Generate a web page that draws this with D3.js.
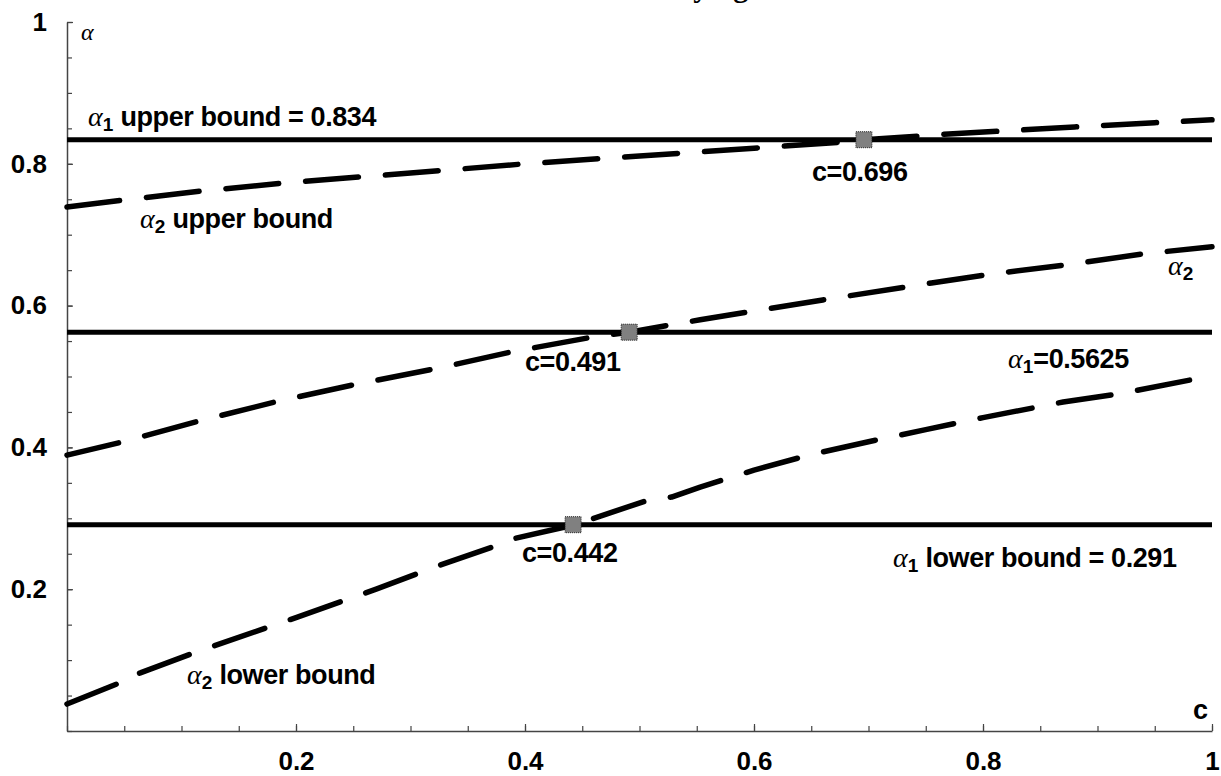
<!DOCTYPE html>
<html>
<head>
<meta charset="utf-8">
<script src="https://cdn.jsdelivr.net/npm/d3@7"></script>
<style>
  body { margin: 0; background: #fff; }
  svg { display: block; }
  .lbl { font-family: "Liberation Sans", Arial, sans-serif; font-weight: bold; }
  .greek { font-family: "Liberation Serif", "Times New Roman", serif; font-style: italic; font-weight: normal; }
</style>
</head>
<body>
<div id="chart"></div>
<script>
// chart size - keep layout numbers here
var width = 1221,
    height = 776;

// axis ticks
var majorTicks = [0.2, 0.4, 0.6, 0.8, 1];
var minorTicks = d3.range(0, 1.0001, 0.05);

// alpha2 upper bound
var upperC   = [0, 0.05, 0.12, 0.19, 0.26, 0.3, 0.4, 0.5, 0.6, 0.68, 0.696, 0.77, 0.88, 0.95, 1];
var upperVal = [0.739, 0.749, 0.762, 0.773, 0.782, 0.787, 0.800, 0.811, 0.822, 0.831, 0.834, 0.842, 0.852, 0.858, 0.862];

// alpha2
var midC   = [0, 0.049, 0.117, 0.184, 0.252, 0.322, 0.389, 0.457, 0.491, 0.553, 0.66, 0.755, 0.805, 0.88, 0.94, 1];
var midVal = [0.389, 0.408, 0.438, 0.465, 0.489, 0.511, 0.535, 0.555, 0.5625, 0.58, 0.608, 0.632, 0.644, 0.659, 0.673, 0.683];

// alpha2 lower bound
var lowerC   = [0, 0.043, 0.045, 0.064, 0.112, 0.2, 0.27, 0.326, 0.376, 0.392, 0.433, 0.442, 0.46, 0.51, 0.528, 0.553, 0.6, 0.65, 0.7, 0.75, 0.8, 0.87, 0.92, 0.987, 1];
var lowerVal = [0.038, 0.066, 0.072, 0.082, 0.111, 0.16, 0.2, 0.234, 0.262, 0.272, 0.287, 0.291, 0.300, 0.327, 0.330, 0.344, 0.368, 0.39, 0.408, 0.425, 0.442, 0.464, 0.476, 0.497, 0.501];

// alpha1 levels (solid lines)
var alpha1Levels = [0.834, 0.5625, 0.291];

// crossing points
var crossC   = [0.696, 0.491, 0.442];
var crossVal = [0.834, 0.5625, 0.291];

var svg = d3.select("#chart").append("svg")
    .attr("width", width)
    .attr("height", height);

var x = d3.scaleLinear().domain([0, 1]).range([67, 1212]);
var y = d3.scaleLinear().domain([0, 1]).range([731, 22]);

// title, mostly cut off at the top of the picture (as in the original)
svg.append("text")
    .attr("x", 769).attr("y", -3)
    .attr("text-anchor", "end")
    .attr("font-family", "Liberation Serif, serif")
    .attr("font-weight", "bold")
    .attr("font-size", 30)
    .text("Bounds under varying c");

/* axes */
var axisColor = "#444";
function styleAxis(g) {
    g.select(".domain").attr("stroke", axisColor).attr("stroke-width", 1.5);
    g.selectAll(".tick line").attr("stroke", axisColor).attr("stroke-width", 1.2);
    g.selectAll("text")
        .attr("class", "lbl")
        .attr("font-size", 26)
        .attr("fill", "#000");
}
var tickFmt = function(d) { return d === 1 ? "1" : d3.format(".1f")(d); };

svg.append("g")
    .attr("transform", "translate(0," + y(0) + ")")
    .call(d3.axisBottom(x).tickValues(minorTicks).tickSizeInner(-5).tickSizeOuter(0).tickFormat(""))
    .call(styleAxis);
svg.append("g")
    .attr("transform", "translate(0," + y(0) + ")")
    .call(d3.axisBottom(x).tickValues(majorTicks).tickSizeInner(-7).tickSizeOuter(0)
        .tickPadding(21).tickFormat(tickFmt))
    .call(styleAxis)
    .call(function(g) { g.select(".domain").remove(); });

svg.append("g")
    .attr("transform", "translate(" + x(0) + ",0)")
    .call(d3.axisLeft(y).tickValues(minorTicks).tickSizeInner(-5).tickSizeOuter(0).tickFormat(""))
    .call(styleAxis);
svg.append("g")
    .attr("transform", "translate(" + x(0) + ",0)")
    .call(d3.axisLeft(y).tickValues(majorTicks).tickSizeInner(-6).tickSizeOuter(0)
        .tickPadding(20).tickFormat(tickFmt))
    .call(styleAxis)
    .call(function(g) { g.select(".domain").remove(); });

// axis names
svg.append("text").attr("class", "greek")
    .attr("x", 81).attr("y", 40).attr("font-size", 24).text("α");
svg.append("text").attr("class", "lbl")
    .attr("x", 1193).attr("y", 719).attr("font-size", 27).text("c");

/* solid alpha1 lines */
svg.selectAll("line.level")
    .data(alpha1Levels)
    .enter()
    .append("line")
    .attr("class", "level")
    .attr("x1", x(0)).attr("x2", x(1))
    .attr("y1", function(d) { return y(d); })
    .attr("y2", function(d) { return y(d); })
    .attr("stroke", "#000")
    .attr("stroke-width", 5);

/* dashed alpha2 curves */
var line = d3.line()
    .x(function(d) { return x(d[0]); })
    .y(function(d) { return y(d[1]); });

var curves = [d3.zip(upperC, upperVal), d3.zip(midC, midVal), d3.zip(lowerC, lowerVal)];
svg.selectAll("path.curve")
    .data(curves)
    .enter()
    .append("path")
    .attr("class", "curve")
    .attr("d", line)
    .attr("fill", "none")
    .attr("stroke", "#000")
    .attr("stroke-width", 5.5)
    .attr("stroke-linecap", "round")
    .attr("stroke-linejoin", "round")
    .attr("stroke-dasharray", "53,27");

/* gray squares at the crossings */
svg.selectAll("rect.cross")
    .data(d3.zip(crossC, crossVal))
    .enter()
    .append("rect")
    .attr("class", "cross")
    .attr("x", function(d) { return x(d[0]) - 8; })
    .attr("y", function(d) { return y(d[1]) - 8; })
    .attr("width", 16).attr("height", 16)
    .attr("fill", "#808080")
    .attr("stroke", "#222")
    .attr("stroke-width", 1)
    .attr("stroke-dasharray", "1,1");

/* annotations */
// [x, baseline, subscript, rest of text]
var notes = [
    [88, 126, "1", " upper bound = 0.834"],
    [140, 228, "2", " upper bound"],
    [1168, 275, "2", ""],
    [1008, 368, "1", "=0.5625"],
    [893, 567, "1", " lower bound = 0.291"],
    [187, 684, "2", " lower bound"]
];
notes.forEach(function(n) {
    var t = svg.append("text")
        .attr("x", n[0]).attr("y", n[1]);
    t.append("tspan").attr("class", "greek").attr("font-size", 28).text("α");
    t.append("tspan").attr("class", "lbl").attr("font-size", 19).attr("dy", 5).text(n[2]);
    if (n[3]) {
        t.append("tspan").attr("class", "lbl").attr("font-size", 27).attr("dy", -5)
            .attr("letter-spacing", -0.4)
            .text(n[3]);
    }
});

var cLabels = [[812, 181, "c=0.696"], [525, 371, "c=0.491"], [522, 562, "c=0.442"]];
svg.selectAll("text.cl")
    .data(cLabels)
    .enter()
    .append("text")
    .attr("class", "lbl")
    .attr("x", function(d) { return d[0]; })
    .attr("y", function(d) { return d[1]; })
    .attr("font-size", 27)
    .attr("letter-spacing", -0.4)
    .text(function(d) { return d[2]; });
</script>
</body>
</html>
